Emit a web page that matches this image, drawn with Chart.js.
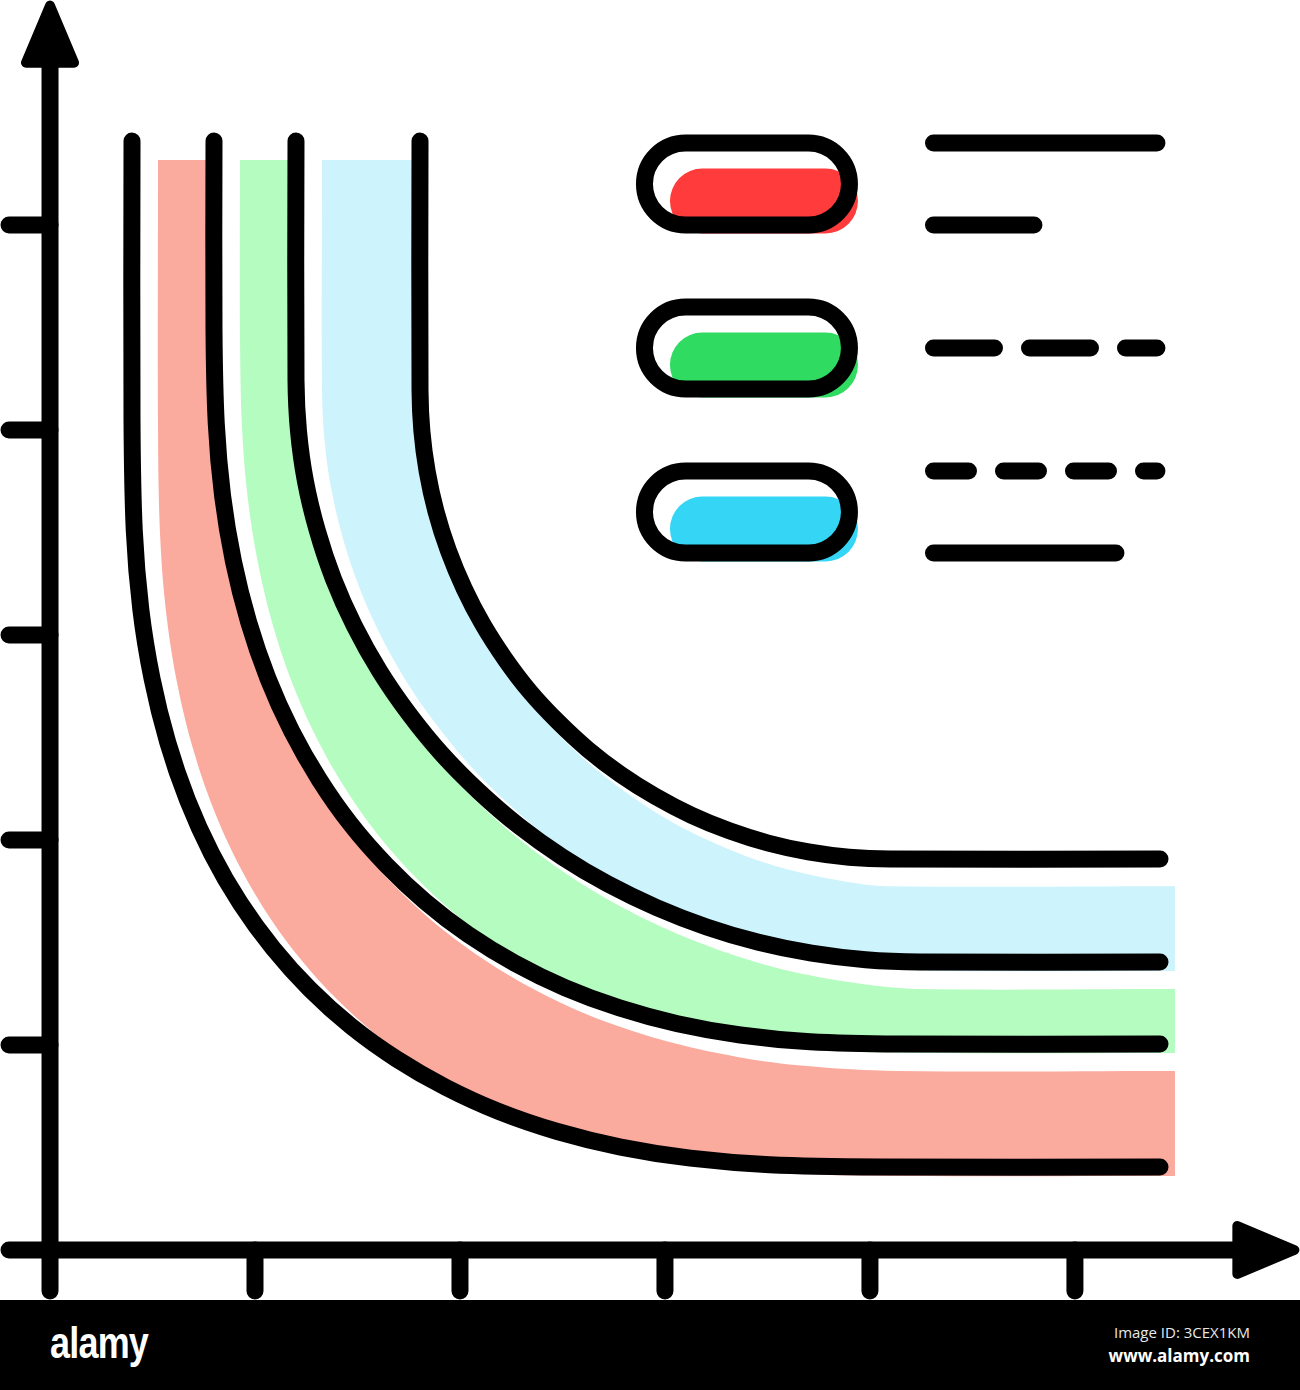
<!DOCTYPE html>
<html>
<head>
<meta charset="utf-8">
<title>Curves chart</title>
<script src="https://cdn.jsdelivr.net/npm/chart.js@4.4.1/dist/chart.umd.min.js"></script>
<style>
    html, body { margin: 0; padding: 0; background: #fff; }
    #wrap { width: 1300px; height: 1300px; position: relative; }
    #banner { width: 1300px; height: 90px; background: #000; position: relative; overflow: hidden; }
    #banner .logo {
        position: absolute; left: 50px; top: 20px;
        font: bold 45px 'Liberation Sans', Arial, sans-serif; line-height: 45px;
        color: #fff; letter-spacing: -1px;
        transform: scaleX(0.8); transform-origin: 0 0;
    }
    #banner .credit { position: absolute; right: 50px; top: 22px; text-align: right; font-family: 'Open Sans', 'Noto Sans', sans-serif; }
    #banner .credit .id { font-size: 15px; line-height: 20px; color: #e8e8e8; }
    #banner .credit .url { font-size: 17px; line-height: 28px; font-weight: bold; color: #fff; }
</style>
</head>
<body>
<div id="wrap"><canvas id="chart" width="1300" height="1300"></canvas></div>
<div id="banner">
    <div class="logo">alamy</div>
    <div class="credit">
        <div class="id">Image ID: 3CEX1KM</div>
        <div class="url">www.alamy.com</div>
    </div>
</div>
<script>
// axes
const xTicks = [10, 20, 30, 40, 50];
const yTicks = [10, 20, 30, 40, 50];
const axisExtent = [-2.0, 58.0];
const arrowTip = 60.9;
const tickReach = -2.0;

// black curves
const curve1X = [4.00, 4.00, 4.11, 4.43, 4.98, 5.74, 6.71, 7.89, 9.28, 10.88, 12.68, 14.68, 16.89, 19.30, 21.91, 24.75, 27.84, 31.24, 35.10, 40.49, 54.15];
const curve1Y = [54.10, 40.49, 35.11, 31.25, 27.86, 24.78, 21.94, 19.33, 16.92, 14.72, 12.72, 10.92, 9.33, 7.94, 6.75, 5.78, 5.02, 4.48, 4.16, 4.05, 4.05];
const curve2X = [8.00, 8.00, 8.11, 8.42, 8.95, 9.69, 10.63, 11.78, 13.13, 14.66, 16.40, 18.31, 20.40, 22.68, 25.14, 27.78, 30.61, 33.68, 37.08, 41.46, 54.15];
const curve2Y = [54.10, 44.88, 40.32, 36.78, 33.59, 30.63, 27.89, 25.33, 22.96, 20.78, 18.79, 16.99, 15.39, 13.99, 12.79, 11.81, 11.04, 10.49, 10.16, 10.05, 10.05];
const curve3X = [12.00, 12.00, 12.12, 12.46, 13.04, 13.83, 14.85, 16.08, 17.51, 19.12, 20.92, 22.87, 24.98, 27.22, 29.58, 32.03, 34.56, 37.15, 39.79, 42.44, 54.15];
const curve3Y = [54.10, 42.44, 39.97, 37.51, 35.09, 32.73, 30.44, 28.24, 26.16, 24.19, 22.37, 20.69, 19.18, 17.85, 16.71, 15.76, 15.01, 14.48, 14.16, 14.05, 14.05];
const curve4X = [18.05, 18.05, 18.14, 18.40, 18.83, 19.43, 20.20, 21.12, 22.20, 23.41, 24.77, 26.24, 27.82, 29.51, 31.29, 33.14, 35.04, 37.00, 38.98, 40.98, 54.15];
const curve4Y = [54.10, 41.95, 39.96, 37.98, 36.03, 34.13, 32.28, 30.51, 28.83, 27.24, 25.78, 24.42, 23.21, 22.14, 21.21, 20.45, 19.85, 19.42, 19.16, 19.07, 19.07];

// coloured bands: outer edge top -> right, inner edge right -> top
const redOuterX = [5.27, 5.27, 5.38, 5.70, 6.25, 7.01, 7.98, 9.16, 10.55, 12.15, 13.95, 15.95, 18.16, 20.57, 23.18, 26.02, 29.11, 32.51, 36.37, 41.76, 54.88];
const redOuterY = [53.17, 40.05, 34.67, 30.81, 27.42, 24.34, 21.50, 18.89, 16.48, 14.28, 12.28, 10.48, 8.89, 7.50, 6.31, 5.34, 4.58, 4.04, 3.72, 3.61, 3.61];
const redInnerX = [54.88, 41.31, 36.93, 33.53, 30.46, 27.63, 24.99, 22.53, 20.25, 18.16, 16.25, 14.51, 12.98, 11.63, 10.48, 9.54, 8.80, 8.27, 7.96, 7.85, 7.85];
const redInnerY = [8.73, 8.73, 8.97, 9.42, 10.08, 10.95, 12.03, 13.32, 14.81, 16.48, 18.35, 20.40, 22.64, 25.05, 27.65, 30.43, 33.41, 36.62, 40.17, 44.73, 53.17];

const greenOuterX = [9.27, 9.27, 9.38, 9.69, 10.22, 10.96, 11.90, 13.05, 14.40, 15.93, 17.67, 19.58, 21.67, 23.95, 26.41, 29.05, 31.88, 34.95, 38.35, 42.73, 54.88];
const greenOuterY = [53.17, 44.44, 39.88, 36.34, 33.15, 30.19, 27.45, 24.89, 22.52, 20.34, 18.35, 16.55, 14.95, 13.55, 12.35, 11.37, 10.60, 10.05, 9.72, 9.61, 9.61];
const greenInnerX = [54.88, 42.29, 39.64, 37.00, 34.41, 31.88, 29.43, 27.07, 24.83, 22.72, 20.77, 18.97, 17.36, 15.93, 14.70, 13.68, 12.89, 12.31, 11.97, 11.85, 11.85];
const greenInnerY = [12.73, 12.73, 12.97, 13.41, 14.05, 14.91, 15.95, 17.18, 18.60, 20.18, 21.93, 23.81, 25.84, 27.96, 30.20, 32.53, 34.91, 37.35, 39.82, 42.29, 53.17];

const blueOuterX = [13.27, 13.27, 13.39, 13.73, 14.31, 15.10, 16.12, 17.35, 18.78, 20.39, 22.19, 24.14, 26.25, 28.49, 30.85, 33.30, 35.83, 38.42, 41.06, 43.71, 54.88];
const blueOuterY = [53.17, 42.00, 39.53, 37.07, 34.65, 32.29, 30.00, 27.80, 25.72, 23.75, 21.93, 20.25, 18.74, 17.41, 16.27, 15.32, 14.57, 14.04, 13.72, 13.61, 13.61];
const blueInnerX = [54.88, 40.83, 38.83, 36.85, 34.89, 32.99, 31.14, 29.36, 27.67, 26.09, 24.62, 23.26, 22.05, 20.97, 20.05, 19.28, 18.68, 18.25, 17.99, 17.90, 17.90];
const blueInnerY = [17.75, 17.75, 17.97, 18.35, 18.89, 19.60, 20.45, 21.47, 22.63, 23.91, 25.34, 26.86, 28.51, 30.23, 32.04, 33.93, 35.85, 37.82, 39.81, 41.80, 53.17];

// legend: pills and the text placeholder bars next to them
const pillRows = [52, 44, 36];
const pillSpan = [29, 39];
const pillHalf = 2;
const barStartX = 43.1;
const barRowsY = [54.0, 50.0, 44.0, 38.0, 34.0];
const barEndsX = [54.0, 48.0, 54.0, 54.0, 52.0];

const palette = {
    ink: '#000000',
    salmon: '#FBAA9E',
    mint: '#B5FCC1',
    sky: '#CDF3FD',
    red: '#FF3B3B',
    green: '#2FDB60',
    blue: '#35D6F5',
};
const STROKE = 17;
const SMOOTH = 0.35;
const barDashes = [[], [], [61, 35], [35, 35], []];
const pillColors = [palette.red, palette.green, palette.blue];

function points(xs, ys) {
    return xs.map(function (x, i) { return { x: x, y: ys[i] }; });
}

function bandShape(outerX, outerY, innerX, innerY) {
    const outer = points(outerX, outerY);
    const inner = points(innerX, innerY);
    // corners repeated so the spline keeps the right-hand end square
    return outer.concat([outer[outer.length - 1], inner[0]], inner);
}

function band(data, color) {
    return {
        data,
        backgroundColor: color,
        borderColor: 'transparent',
        borderWidth: 0,
        fill: 'shape',
        tension: SMOOTH,
        pointRadius: 0,
        order: 5,
    };
}

function inkLine(data, extra) {
    return Object.assign({
        data,
        borderColor: palette.ink,
        borderWidth: STROKE,
        borderCapStyle: 'round',
        borderJoinStyle: 'round',
        fill: false,
        tension: 0,
        pointRadius: 0,
        spanGaps: false,
        order: 1,
    }, extra || {});
}

function axisLines() {
    return [
        { x: axisExtent[0], y: 0 }, { x: axisExtent[1], y: 0 }, { x: 0, y: null },
        { x: 0, y: axisExtent[0] }, { x: 0, y: axisExtent[1] },
    ];
}

function tickMarks() {
    const out = [];
    xTicks.forEach(function (t) { out.push({ x: t, y: tickReach }, { x: t, y: 0 }, { x: t, y: null }); });
    yTicks.forEach(function (t) { out.push({ x: tickReach, y: t }, { x: 0, y: t }, { x: 0, y: null }); });
    return out;
}

const arrowHeads = {
    id: 'arrowHeads',
    afterDatasetsDraw(chart) {
        const { ctx, scales: { x, y } } = chart;
        const ox = x.getPixelForValue(0);
        const oy = y.getPixelForValue(0);
        const tipX = x.getPixelForValue(arrowTip);
        const tipY = y.getPixelForValue(arrowTip);
        ctx.save();
        ctx.fillStyle = palette.ink;
        ctx.strokeStyle = palette.ink;
        ctx.lineJoin = 'round';
        ctx.lineWidth = 10;
        ctx.beginPath();
        ctx.moveTo(ox, tipY + 4);
        ctx.lineTo(ox - 24, tipY + 61);
        ctx.lineTo(ox + 24, tipY + 61);
        ctx.closePath();
        ctx.fill();
        ctx.stroke();
        ctx.beginPath();
        ctx.moveTo(tipX - 4, oy);
        ctx.lineTo(tipX - 61, oy - 24);
        ctx.lineTo(tipX - 61, oy + 24);
        ctx.closePath();
        ctx.fill();
        ctx.stroke();
        ctx.restore();
    },
};

const legendPills = {
    id: 'legendPills',
    afterDatasetsDraw(chart) {
        const { ctx, scales: { x, y } } = chart;
        const left = x.getPixelForValue(pillSpan[0]);
        const right = x.getPixelForValue(pillSpan[1]);
        pillRows.forEach(function (row, i) {
            const top = y.getPixelForValue(row + pillHalf);
            const bottom = y.getPixelForValue(row - pillHalf);
            const w = right - left - STROKE;
            const h = bottom - top - STROKE;
            ctx.save();
            ctx.fillStyle = pillColors[i];
            ctx.beginPath();
            ctx.roundRect(left + STROKE * 1.5, top + STROKE * 1.5, w, h, h / 2);
            ctx.fill();
            ctx.strokeStyle = palette.ink;
            ctx.lineWidth = STROKE;
            ctx.beginPath();
            ctx.roundRect(left, top, right - left, bottom - top, (bottom - top) / 2);
            ctx.stroke();
            ctx.restore();
        });
    },
};

const datasets = [
    band(bandShape(redOuterX, redOuterY, redInnerX, redInnerY), palette.salmon),
    band(bandShape(greenOuterX, greenOuterY, greenInnerX, greenInnerY), palette.mint),
    band(bandShape(blueOuterX, blueOuterY, blueInnerX, blueInnerY), palette.sky),
    inkLine(points(curve1X, curve1Y), { tension: SMOOTH, order: 2 }),
    inkLine(points(curve2X, curve2Y), { tension: SMOOTH, order: 2 }),
    inkLine(points(curve3X, curve3Y), { tension: SMOOTH, order: 2 }),
    inkLine(points(curve4X, curve4Y), { tension: SMOOTH, order: 2 }),
    inkLine(axisLines()),
    inkLine(tickMarks()),
];

barRowsY.forEach(function (rowY, i) {
    datasets.push(inkLine(
        [{ x: barStartX, y: rowY }, { x: barEndsX[i], y: rowY }],
        { borderDash: barDashes[i] }
    ));
});

new Chart(document.getElementById('chart'), {
    type: 'line',
    data: { datasets },
    options: {
        responsive: false,
        maintainAspectRatio: false,
        animation: false,
        events: [],
        layout: { padding: 0 },
        plugins: { legend: { display: false }, tooltip: { enabled: false } },
        scales: {
            x: { type: 'linear', min: -2.44, max: 60.98, display: false },
            y: { type: 'linear', min: -2.44, max: 60.98, display: false },
        },
    },
    plugins: [legendPills, arrowHeads],
});
</script>
</body>
</html>
